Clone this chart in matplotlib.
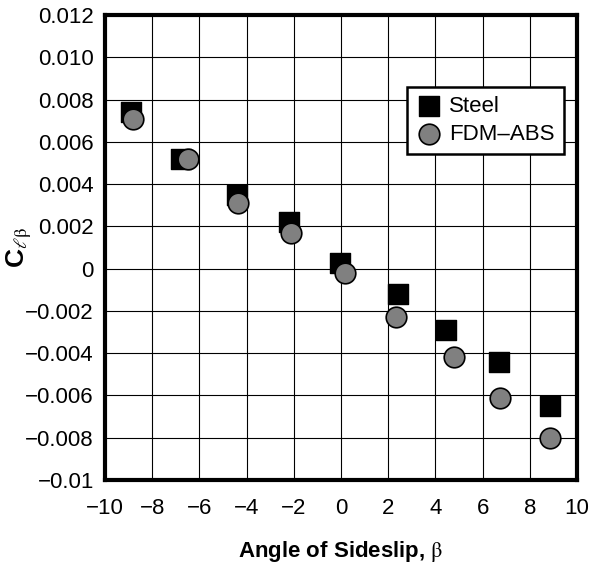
import matplotlib
matplotlib.use("Agg")
from matplotlib import pyplot as plt

plt.rcParams['font.family'] = ['Liberation Sans', 'DejaVu Sans']
plt.rcParams['mathtext.fontset'] = 'custom'
plt.rcParams['mathtext.rm'] = 'STIXGeneral'
plt.rcParams['mathtext.it'] = 'STIXGeneral:italic'
plt.rcParams['mathtext.bf'] = 'Liberation Sans:bold'

# data
steel_beta = [-8.9, -6.8, -4.4, -2.2, -0.05, 2.4, 4.45, 6.7, 8.85]
steel_cl = [0.0074, 0.0052, 0.0035, 0.0022, 0.00025, -0.0012, -0.0029, -0.0044, -0.0065]
abs_beta = [-8.8, -6.5, -4.35, -2.1, 0.15, 2.35, 4.8, 6.75, 8.85]
abs_cl = [0.0071, 0.0052, 0.0031, 0.0017, -0.0002, -0.0023, -0.0042, -0.0061, -0.0080]

x_ticks = [-10, -8, -6, -4, -2, 0, 2, 4, 6, 8, 10]
x_labels = ['\u221210', '\u22128', '\u22126', '\u22124', '\u22122', '0', '2', '4', '6', '8', '10']
y_ticks = [-0.01, -0.008, -0.006, -0.004, -0.002, 0, 0.002, 0.004, 0.006, 0.008, 0.010, 0.012]
y_labels = ['\u22120.01', '\u22120.008', '\u22120.006', '\u22120.004', '\u22120.002', '0',
            '0.002', '0.004', '0.006', '0.008', '0.010', '0.012']

fig = plt.figure(figsize=(5.92, 5.69), dpi=100)
ax = fig.add_axes([105 / 592, 1 - 480 / 569, 472 / 592, 465 / 569])

ax.scatter(steel_beta, steel_cl, marker='s', s=190, color='black', label='Steel', zorder=3)
ax.scatter(abs_beta, abs_cl, marker='o', s=220, facecolor='#808080', edgecolor='black',
           linewidth=1.2, label='FDM\u2013ABS', zorder=4)

ax.set_xlim(-10, 10)
ax.set_ylim(-0.01, 0.012)
ax.set_xticks(x_ticks)
ax.set_xticklabels(x_labels)
ax.set_yticks(y_ticks)
ax.set_yticklabels(y_labels)
ax.tick_params(axis='both', length=0, labelsize=16)
ax.tick_params(axis='x', pad=13)
ax.tick_params(axis='y', pad=8)
ax.grid(True, color='black', linewidth=0.8)
ax.set_axisbelow(True)
for sp in ax.spines.values():
    sp.set_linewidth(3)

ax.set_xlabel(r'Angle of Sideslip, $\mathrm{\beta}$', fontsize=16, fontweight='bold', labelpad=14)
ax.set_ylabel(r'$\mathbf{C}_{\ell\mathrm{\beta}}$', fontsize=19, labelpad=2)
ax.yaxis.set_label_coords(-0.15, 0.5)

leg = ax.legend(loc='upper right', bbox_to_anchor=(0.972, 0.845), fontsize=16,
                frameon=True, fancybox=False, edgecolor='black', framealpha=1,
                handletextpad=0.3, borderpad=0.4, labelspacing=0.3, handlelength=1.2,
                borderaxespad=0)
leg.get_frame().set_linewidth(1.8)

fig.savefig('out.png', dpi=100)
